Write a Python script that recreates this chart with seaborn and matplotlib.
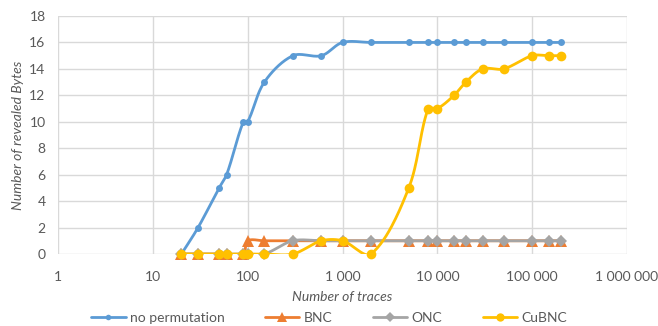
import numpy as np
import pandas as pd
import matplotlib
matplotlib.use("Agg")
import matplotlib.pyplot as plt
import seaborn as sns
from matplotlib.lines import Line2D

# ---- data ----
traces = [20, 30, 50, 60, 90, 100, 150, 300, 600, 1000, 2000, 5000, 8000,
          10000, 15000, 20000, 30000, 50000, 100000, 150000, 200000]
no_perm = [0, 2, 5, 6, 10, 10, 13, 15, 15, 16, 16, 16, 16, 16, 16, 16, 16, 16, 16, 16, 16]
bnc     = [0, 0, 0, 0, 0, 1, 1, 1, 1, 1, 1, 1, 1, 1, 1, 1, 1, 1, 1, 1, 1]
onc     = [0, 0, 0, 0, 0, 0, 0, 1, 1, 1, 1, 1, 1, 1, 1, 1, 1, 1, 1, 1, 1]
cubnc   = [0, 0, 0, 0, 0, 0, 0, 0, 1, 1, 0, 5, 11, 11, 12, 13, 14, 14, 15, 15, 15]
series_names = ["no permutation", "BNC", "ONC", "CuBNC"]
x_ticks = [1, 10, 100, 1000, 10000, 100000, 1000000]
x_tick_labels = ["1", "10", "100", "1 000", "10 000", "100 000", "1 000 000"]
y_ticks = [0, 2, 4, 6, 8, 10, 12, 14, 16, 18]

colors = ["#5B9BD5", "#ED7D31", "#A5A5A5", "#FFC000"]
markers = ["o", "^", "D", "o"]
msizes = [5, 8, 6.5, 7]

sns.set_theme(style="white")
plt.rcParams["font.family"] = ["Lato", "DejaVu Sans"]
text_col = "#595959"
grid_col = "#D9D9D9"
FS = 10

fig = plt.figure(figsize=(6.58, 3.26), dpi=100)
ax = fig.add_axes([58/658, 1-254/326, (627-58)/658, (254-16)/326])

PX_DEC = 95.0   # pixels per decade
PX_UNIT = 13.2  # pixels per y unit


def smooth(xs, ys, n=30):
    u = np.log10(np.asarray(xs, float)) * PX_DEC
    v = np.asarray(ys, float) * PX_UNIT
    P = np.column_stack([u, v])
    m = len(P)
    d = np.hypot(np.diff(P[:, 0]), np.diff(P[:, 1]))
    out = [P[0]]
    for i in range(m - 1):
        p1, p2 = P[i], P[i + 1]
        if i > 0:
            w = d[i] / (d[i - 1] + d[i])
            c1 = p1 + (p2 - P[i - 1]) * w / 3.0
        else:
            c1 = p1 + (p2 - p1) / 3.0 * 0.5
        if i + 2 < m:
            w = d[i] / (d[i] + d[i + 1])
            c2 = p2 - (P[i + 2] - p1) * w / 3.0
        else:
            c2 = p2 - (p2 - p1) / 3.0 * 0.5
        t = np.linspace(0, 1, n)[1:, None]
        b = ((1 - t) ** 3) * p1 + 3 * ((1 - t) ** 2) * t * c1 + 3 * (1 - t) * t ** 2 * c2 + t ** 3 * p2
        out.extend(b)
    out = np.array(out)
    return 10 ** (out[:, 0] / PX_DEC), out[:, 1] / PX_UNIT


all_series = [no_perm, bnc, onc, cubnc]
for k, (name, vals) in enumerate(zip(series_names, all_series)):
    sx, sy = smooth(traces, vals)
    df_line = pd.DataFrame({"x": sx, "y": sy})
    sns.lineplot(data=df_line, x="x", y="y", ax=ax, color=colors[k], lw=2.0,
                 sort=False, estimator=None, zorder=3 + k)
    df_pts = pd.DataFrame({"x": traces, "y": vals})
    ax.plot(df_pts["x"], df_pts["y"], linestyle="none", marker=markers[k],
            markersize=msizes[k], color=colors[k], markeredgewidth=0,
            zorder=3 + k, clip_on=False)

ax.set_xscale("log")
ax.set_xlim(1, 1000000)
ax.set_ylim(0, 18)
ax.set_xticks(x_ticks)
ax.set_xticklabels(x_tick_labels)
ax.minorticks_off()
ax.set_yticks(y_ticks)
ax.grid(True, color=grid_col, lw=1.0)
for s in ax.spines.values():
    s.set_visible(False)
ax.tick_params(axis="both", length=0, labelsize=FS, colors=text_col)
ax.tick_params(axis="x", pad=12)
ax.tick_params(axis="y", pad=9)

ax.set_xlabel("Number of traces", fontsize=FS, style="italic", color=text_col, labelpad=6)
ax.set_ylabel("Number of revealed Bytes", fontsize=FS, style="italic", color=text_col, labelpad=4)

handles = [Line2D([0], [0], color=colors[k], lw=2.0, marker=markers[k],
                  markersize=msizes[k] - 1, markeredgewidth=0) for k in range(4)]
fig.legend(handles, series_names, loc="center", bbox_to_anchor=(0.5, 1 - 318/326),
           ncol=4, frameon=False, fontsize=FS, labelcolor=text_col,
           handlelength=2.5, columnspacing=2.9, handletextpad=0.3,
           borderpad=0.1)

fig.savefig("out.png", dpi=100)
